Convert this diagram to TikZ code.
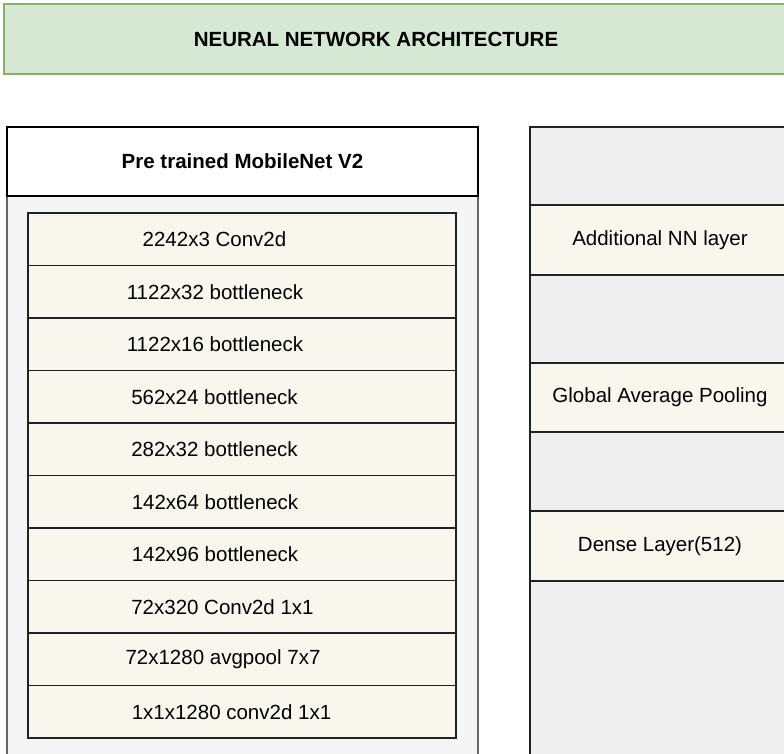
\documentclass[tikz,border=0pt]{standalone}
\usepackage{fontspec}
\setmainfont{Liberation Sans}
\definecolor{bannergreen}{HTML}{D5E8D4}
\definecolor{bannerline}{HTML}{82B366}
\definecolor{bodygray}{HTML}{F5F5F5}
\definecolor{bodyline}{HTML}{666666}
\definecolor{layercream}{HTML}{F9F7ED}
\definecolor{layerline}{HTML}{1F2123}
\definecolor{columngray}{HTML}{EEEEEE}
\begin{document}
\begin{tikzpicture}[x=1pt,y=-1pt,
  labelfont/.style={font=\fontsize{20.5}{24}\selectfont},
  box/.style={draw, inner sep=0pt, line width=1.5pt, labelfont},
  banner/.style={box, fill=bannergreen, draw=bannerline},
  boldtext/.style={inner sep=0pt, font=\fontsize{20.5}{24}\selectfont\bfseries},
  plaintext/.style={inner sep=0pt, labelfont},
  header/.style={box, fill=white, draw=black, line width=1.8pt, font=\fontsize{20.5}{24}\selectfont\bfseries},
  body/.style={box, fill=bodygray, draw=bodyline},
  layer/.style={box, fill=layercream, draw=layerline, line width=1.8pt, minimum width=428pt, minimum height=52.5pt},
  extra/.style={box, fill=layercream, draw=layerline, line width=1.8pt, minimum width=260pt},
  column/.style={box, fill=columngray, draw=layerline, line width=1.8pt},
]
\useasboundingbox (0,0) rectangle (784,754);
\clip (0,0) rectangle (784,754);

% title banner
\node[banner, minimum width=796pt, minimum height=70pt] (banner) at (402,39) {};
\node[boldtext] (title) at (376,39) {NEURAL NETWORK ARCHITECTURE};

% pre-trained backbone
\node[body, minimum width=471pt, minimum height=604pt] (backbone) at (242.5,498) {};
\node[header, minimum width=471pt, minimum height=69pt] (head) at (242.5,161.5) {Pre trained MobileNet V2};

\foreach \i/\tx/\txt in {0/214.5/2242x3 Conv2d, 1/215/1122x32 bottleneck,
                         2/215/1122x16 bottleneck, 3/214.5/562x24 bottleneck,
                         4/214.5/282x32 bottleneck, 5/215/142x64 bottleneck,
                         6/215/142x96 bottleneck, 7/222.5/72x320 Conv2d 1x1,
                         8/223/72x1280 avgpool 7x7, 9/231.5/1x1x1280 conv2d 1x1}
{
  \node[layer] (row\i) at (242, 239.25+52.5*\i) {};
  \node[plaintext] (rowtext\i) at (\tx, 239.25+52.5*\i) {\txt};
}

% additional head layers
\node[column, minimum width=260pt, minimum height=673pt] (headcol) at (660,463.5) {};
\node[extra, minimum height=70pt] (addnn) at (660,240) {Additional NN layer};
\node[extra, minimum height=69pt] (gap) at (660,397.5) {Global Average Pooling};
\node[extra, minimum height=70pt] (dense) at (660,546) {Dense Layer(512)};
\end{tikzpicture}
\end{document}
